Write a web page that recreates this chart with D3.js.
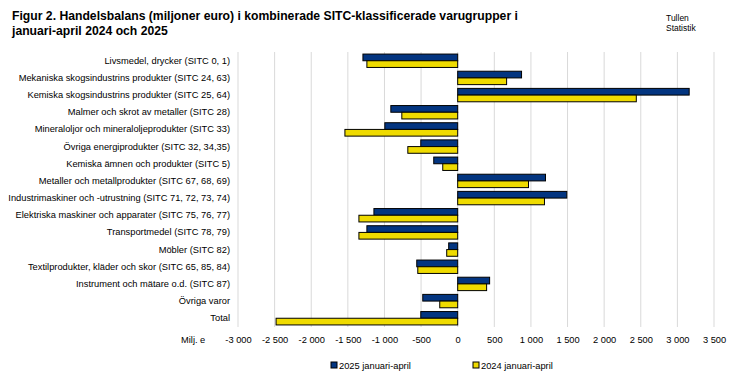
<!DOCTYPE html>
<html><head><meta charset="utf-8">
<script src="https://cdn.jsdelivr.net/npm/d3@7"></script>
<style>
body{margin:0;background:#fff;}
text{font-family:"Liberation Sans",Arial,sans-serif;}
</style></head>
<body>
<svg id="c" width="737" height="378"></svg>
<script>
const categories = [
  "Livsmedel, drycker (SITC 0, 1)",
  "Mekaniska skogsindustrins produkter (SITC 24, 63)",
  "Kemiska skogsindustrins produkter (SITC 25, 64)",
  "Malmer och skrot av metaller (SITC 28)",
  "Mineraloljor och mineraloljeprodukter (SITC 33)",
  "Övriga energiprodukter (SITC 32, 34,35)",
  "Kemiska ämnen och produkter (SITC 5)",
  "Metaller och metallprodukter (SITC 67, 68, 69)",
  "Industrimaskiner och -utrustning (SITC 71, 72, 73, 74)",
  "Elektriska maskiner och apparater (SITC 75, 76, 77)",
  "Transportmedel (SITC 78, 79)",
  "Möbler (SITC 82)",
  "Textilprodukter, kläder och skor (SITC 65, 85, 84)",
  "Instrument och mätare o.d. (SITC 87)",
  "Övriga varor",
  "Total"
];
const values2025 = [-1294, 872, 3161, -913, -995, -504, -327, 1199, 1490, -1144, -1240, -123, -559, 436, -477, -504];
const values2024 = [-1240, 668, 2439, -763, -1540, -681, -204, 967, 1185, -1349, -1349, -150, -545, 395, -245, -2480];
const seriesNames = ["2025 januari-april", "2024 januari-april"];
const tickValues = [-3000,-2500,-2000,-1500,-1000,-500,0,500,1000,1500,2000,2500,3000,3500];
const titleLines = ["Figur 2. Handelsbalans (miljoner euro) i kombinerade SITC-klassificerade varugrupper i", "januari-april 2024 och 2025"];
const sourceLines = ["Tullen", "Statistik"];
const unitLabel = "Milj. e";

const colors = ["#033580", "#efdb00"];
const svg = d3.select("#c");

const x = d3.scaleLinear().domain([-3000, 3500]).range([238, 714]);
const y = d3.scaleBand().domain(categories).range([52, 327]).paddingInner(0.22).paddingOuter(0.12);
const ys = d3.scaleBand().domain([0,1]).range([0, y.bandwidth()]);

// gridlines
svg.append("g").selectAll("line").data(tickValues).join("line")
  .attr("x1", d => x(d)).attr("x2", d => x(d))
  .attr("y1", 52).attr("y2", 327)
  .attr("stroke", "#d9d9d9").attr("stroke-width", 1);

// bars
const data = [];
categories.forEach((c, i) => {
  data.push({c, s: 0, v: values2025[i]});
  data.push({c, s: 1, v: values2024[i]});
});
svg.append("g").selectAll("rect").data(data).join("rect")
  .attr("x", d => x(Math.min(0, d.v)))
  .attr("width", d => Math.abs(x(d.v) - x(0)))
  .attr("y", d => y(d.c) + ys(d.s))
  .attr("height", ys.bandwidth())
  .attr("fill", d => colors[d.s])
  .attr("stroke", "#000").attr("stroke-width", 1);

// category labels
svg.append("g").selectAll("text").data(categories).join("text")
  .attr("x", 230).attr("y", d => y(d) + y.bandwidth()/2 + 3)
  .attr("text-anchor", "end").attr("font-size", 9.3).attr("fill", "#000")
  .text(d => d);

// x axis
const fmt = d => d3.format(",")(d).replace(/,/g, " ").replace("\u2212", "-");
const ax = svg.append("g").attr("transform", "translate(0,327)")
  .call(d3.axisBottom(x).tickValues(tickValues).tickSize(0).tickPadding(9).tickFormat(fmt));
ax.select(".domain").remove();
ax.selectAll("text").attr("font-size", 9.3).attr("font-family", "Liberation Sans, Arial, sans-serif").attr("fill", "#000");

svg.append("text").attr("x", 181).attr("y", 343).attr("font-size", 9.3).text(unitLabel);

// title
svg.append("g").selectAll("text").data(titleLines).join("text")
  .attr("x", 12).attr("y", (d, i) => 20 + i * 15)
  .attr("font-size", 12.2).attr("font-weight", "bold")
  .attr("font-family", "Liberation Sans Narrow, Liberation Sans, Arial, sans-serif")
  .text(d => d);

svg.append("g").selectAll("text").data(sourceLines).join("text")
  .attr("x", 666).attr("y", (d, i) => 21 + i * 10)
  .attr("font-size", 8.5).text(d => d);

// legend
const legX = [334, 476];
const lg = svg.append("g").selectAll("g").data(seriesNames).join("g")
  .attr("transform", (d, i) => `translate(${legX[i]},365)`);
lg.append("rect").attr("x", -3).attr("y", -3).attr("width", 6).attr("height", 6)
  .attr("fill", (d, i) => colors[i]).attr("stroke", "#000").attr("stroke-width", 1);
lg.append("text").attr("x", 5).attr("y", 3.5).attr("font-size", 9.3).text(d => d);
</script>
</body></html>
